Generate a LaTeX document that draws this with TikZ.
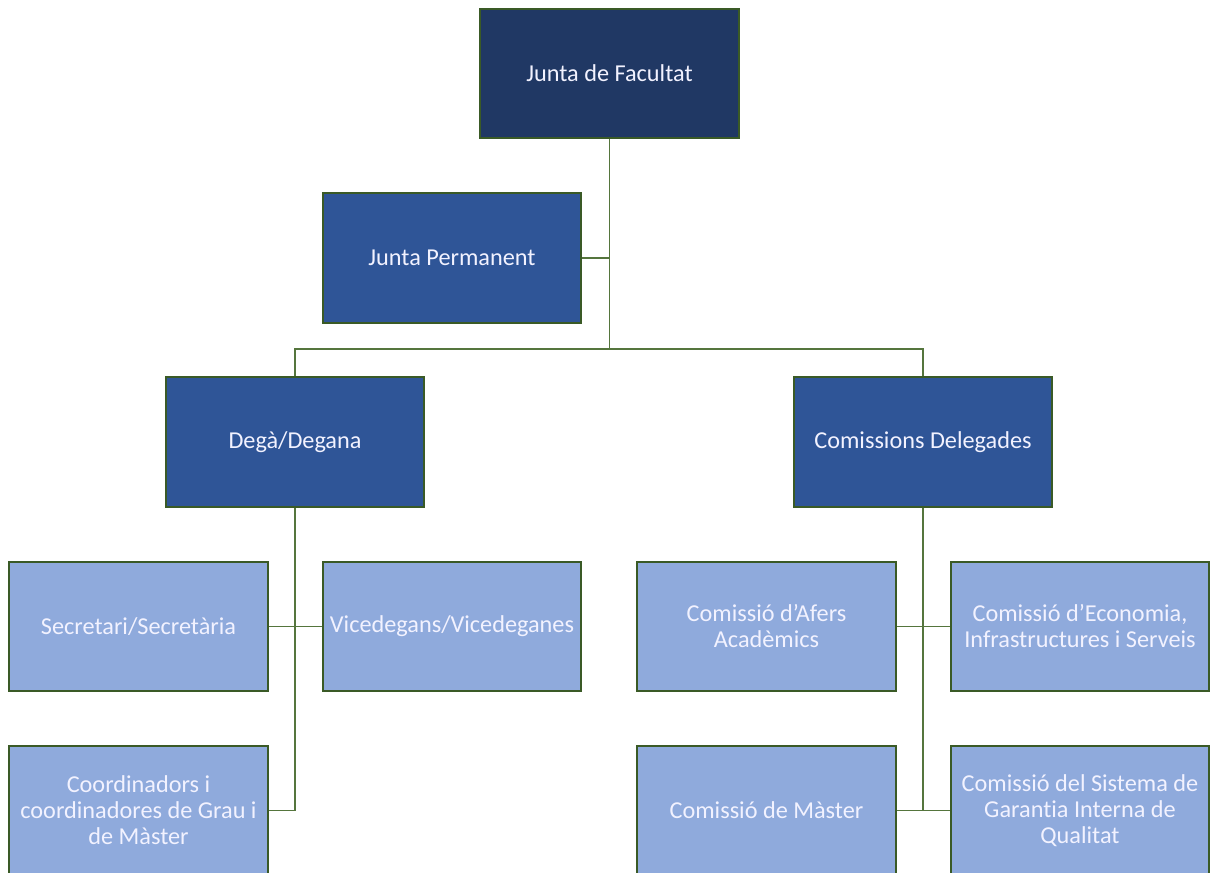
\documentclass[tikz,border=0pt]{standalone}
\usepackage{fontspec}
\setmainfont{Carlito}[Ligatures=NoCommon]
\definecolor{dark}{HTML}{203864}
\definecolor{mid}{HTML}{2F5597}
\definecolor{light}{HTML}{8FAADC}
\definecolor{edge}{HTML}{3A5A26}
\definecolor{conn}{HTML}{55753D}
\begin{document}
\begin{tikzpicture}[x=0.75pt,y=-0.75pt,
  box/.style={draw=edge,line width=1.5pt,minimum width=194pt,minimum height=97pt,
    text=white!95!blue,font=\fontsize{18.2pt}{19.5pt}\selectfont,align=center,inner sep=0pt},
  darkbox/.style={box,fill=dark},
  midbox/.style={box,fill=mid},
  lightbox/.style={box,fill=light},
  link/.style={draw=conn,line width=1.1pt}]
\useasboundingbox (0,0) rectangle (1211,872);
\clip (0,0) rectangle (1211,872);
\node[darkbox] (jf) at (609.5,73.5) {Junta de Facultat};
\node[midbox] (jp) at (452,258) {Junta Permanent};
\node[midbox] (dg) at (295,442) {Degà/Degana};
\node[midbox] (cd) at (923,442) {Comissions Delegades};
\node[lightbox] (sec) at (138.5,626.5) {Secretari/Secretària};
\node[lightbox] (vic) at (452,626.5) {Vicedegans/Vicedeganes};
\node[lightbox] (coo) at (138.5,810.5) {Coordinadors i\\coordinadores de Grau i\\de Màster};
\node[lightbox] (afe) at (766.5,626.5) {Comissió d’Afers\\Acadèmics};
\node[lightbox] (eco) at (1080,626.5) {Comissió d’Economia,\\Infrastructures i Serveis};
\node[lightbox] (mas) at (766.5,810.5) {Comissió de Màster};
\node[lightbox] (sis) at (1080,810.5) {Comissió del Sistema de\\Garantia Interna de\\Qualitat};
\coordinate (hub) at (609.5,349);
\draw[link] (jf.south) -- (hub);
\draw[link] (jp.east) -- (jp.east -| jf.south);
\draw[link] (dg.north) |- (hub) -| (cd.north);
\draw[link] (dg.south) -- (dg.south |- coo.east) -- (coo.east);
\draw[link] (sec.east) -- (vic.west);
\draw[link] (cd.south) -- (cd.south |- mas.east);
\draw[link] (afe.east) -- (eco.west);
\draw[link] (mas.east) -- (sis.west);
\end{tikzpicture}
\end{document}
